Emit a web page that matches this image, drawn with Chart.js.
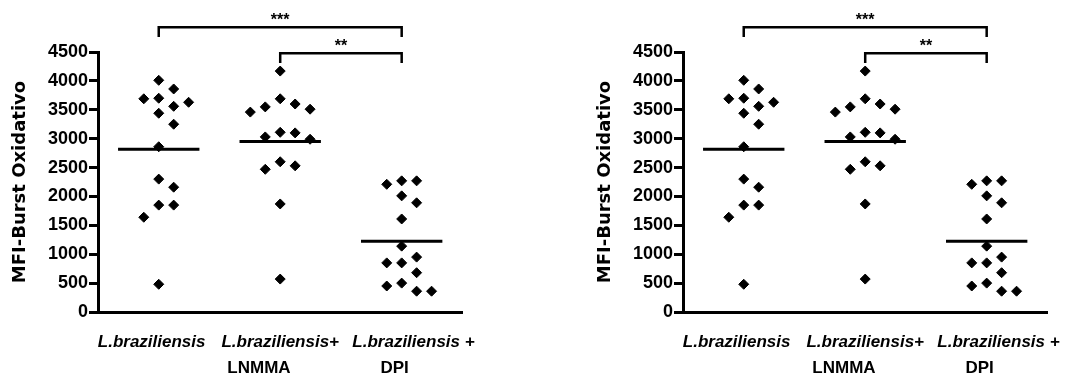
<!DOCTYPE html>
<html>
<head>
<meta charset="utf-8">
<script src="https://cdn.jsdelivr.net/npm/chart.js@4.4.1/dist/chart.umd.min.js"></script>
<style>
  html, body { margin: 0; padding: 0; background: #fff; }
  #wrap { position: relative; width: 1081px; height: 380px; }
  .panel { position: absolute; top: 0; width: 496px; height: 380px; }
</style>
</head>
<body>
<div id="wrap">
  <div class="panel" style="left:0"><canvas id="izq" width="496" height="380"></canvas></div>
  <div class="panel" style="left:585px"><canvas id="der" width="496" height="380"></canvas></div>
</div>
<script>
// etiquetas del eje x (primer renglon en cursiva, segundo normal)
var etiquetas1 = ['L.braziliensis   ', 'L.braziliensis+', '     L.braziliensis +'];
var etiquetas2 = ['', 'LNMMA         ', 'DPI   '];

// valores (MFI)
var valoresBraz = [3700, 3630, 3860, 4010, 3690, 3560, 3440, 3250, 2860, 2300, 2160, 1850, 1850, 1640, 480];
var valoresLnmma = [4170, 3690, 3550, 3460, 3510, 3600, 3110, 3030, 2990, 3100, 2600, 2470, 2530, 1870, 570];
var valoresDpi = [2270, 2210, 2270, 2010, 1890, 1610, 1140, 950, 850, 850, 680, 500, 450, 360, 360];

var yTicks = [0, 500, 1000, 1500, 2000, 2500, 3000, 3500, 4000, 4500];
var tituloY = 'MFI-Burst Oxidativo';

// comparaciones significativas (grupo inicial, grupo final, altura, texto)
var comparaciones = [
  { de: 1, a: 3, nivel: 4930, texto: '***' },
  { de: 2, a: 3, nivel: 4480, texto: '**' }
];

// acomoda los puntos de cada grupo para que no se encimen
function acomodar(valores, centro) {
  var paso = 0.123, minDist = 250;
  var orden = valores.map(function (v, i) { return i; })
    .sort(function (a, b) { return valores[b] - valores[a]; });
  var colocados = [];
  var puntos = [];
  orden.forEach(function (i) {
    var v = valores[i];
    var candidatos = [0, 1, -1, 2, -2, 3, -3];
    var s = 0;
    for (var k = 0; k < candidatos.length; k++) {
      s = candidatos[k];
      var choca = colocados.some(function (p) { return p.slot === s && Math.abs(p.v - v) < minDist; });
      if (!choca) break;
    }
    colocados.push({ slot: s, v: v });
    puntos.push({ x: centro + s * paso, y: v });
  });
  return puntos;
}

// lineas de la media por grupo
function lineasMedia(listas) {
  var d = [];
  listas.forEach(function (vals, i) {
    var m = vals.reduce(function (a, b) { return a + b; }, 0) / vals.length;
    d.push({ x: i + 1 - 0.335, y: m }, { x: i + 1 + 0.335, y: m }, { x: i + 1.5, y: null });
  });
  return d;
}

var llaves = {
  id: 'llaves',
  afterDraw: function (chart) {
    var ctx = chart.ctx, sx = chart.scales.x, sy = chart.scales.y;
    ctx.save();
    ctx.strokeStyle = '#000';
    ctx.fillStyle = '#000';
    ctx.lineWidth = 2.5;
    ctx.font = 'bold 16px "Liberation Sans"';
    ctx.textAlign = 'center';
    ctx.textBaseline = 'alphabetic';
    comparaciones.forEach(function (c) {
      var x1 = sx.getPixelForValue(c.de), x2 = sx.getPixelForValue(c.a);
      var yb = sy.getPixelForValue(c.nivel), yp = sy.getPixelForValue(c.nivel - 170);
      ctx.beginPath();
      ctx.moveTo(x1, yp);
      ctx.lineTo(x1, yb);
      ctx.lineTo(x2, yb);
      ctx.lineTo(x2, yp);
      ctx.stroke();
      ctx.fillText(c.texto, (x1 + x2) / 2, yb - 2);
    });
    ctx.restore();
  }
};

function hacerGrafica(id) {
  var grupos = [valoresBraz, valoresLnmma, valoresDpi];
  var puntos = [];
  grupos.forEach(function (vals, i) { puntos = puntos.concat(acomodar(vals, i + 1)); });

  var fijarTicksX = function (scale) {
    scale.ticks = etiquetas1.map(function (e, i) { return { value: i + 1 }; });
  };

  return new Chart(document.getElementById(id), {
    type: 'scatter',
    data: {
      datasets: [
        {
          data: puntos,
          pointStyle: 'rectRot',
          pointRadius: 5,
          pointBorderWidth: 1,
          backgroundColor: '#000',
          borderColor: '#000'
        },
        {
          data: lineasMedia(grupos),
          showLine: true,
          spanGaps: false,
          pointRadius: 0,
          borderColor: '#000',
          borderWidth: 3
        }
      ]
    },
    options: {
      responsive: false,
      animation: false,
      layout: { padding: { top: 52, right: 8, left: 0, bottom: 0 } },
      plugins: { legend: { display: false }, tooltip: { enabled: false } },
      scales: {
        x: {
          type: 'linear',
          position: 'bottom',
          weight: 0,
          min: 0.5,
          max: 3.5,
          afterBuildTicks: fijarTicksX,
          afterFit: function (s) { s.height = 42; },
          grid: { display: false, drawTicks: false },
          border: { display: true, width: 3, color: '#000' },
          ticks: {
            autoSkip: false,
            maxRotation: 0,
            padding: 20,
            color: '#000',
            font: { family: 'Liberation Sans', size: 17, weight: 'bold', style: 'italic' },
            callback: function (v) { return etiquetas1[v - 1]; }
          }
        },
        x2: {
          type: 'linear',
          position: 'bottom',
          weight: 1,
          min: 0.5,
          max: 3.5,
          afterBuildTicks: fijarTicksX,
          afterFit: function (s) { s.height = 26; },
          grid: { display: false, drawTicks: false },
          border: { display: false },
          ticks: {
            autoSkip: false,
            maxRotation: 0,
            padding: 4,
            color: '#000',
            font: { family: 'Liberation Sans', size: 17, weight: 'bold' },
            callback: function (v) { return etiquetas2[v - 1]; }
          }
        },
        y: {
          position: 'left',
          min: 0,
          max: 4500,
          afterBuildTicks: function (scale) {
            scale.ticks = yTicks.map(function (v) { return { value: v }; });
          },
          afterFit: function (s) { s.width = 98; },
          grid: { display: true, drawOnChartArea: false, drawTicks: true, tickLength: 9, lineWidth: 3, color: '#000' },
          border: { display: true, width: 3, color: '#000' },
          title: {
            display: true,
            text: tituloY,
            color: '#000',
            padding: { top: 10, bottom: 0 },
            font: { family: 'DejaVu Sans', size: 18, weight: 'bold' }
          },
          ticks: {
            padding: 1,
            color: '#000',
            font: { family: 'Liberation Sans', size: 18, weight: 'bold' },
            callback: function (v) { return String(v); }
          }
        }
      }
    },
    plugins: [llaves]
  });
}

hacerGrafica('izq');
hacerGrafica('der');
</script>
</body>
</html>
